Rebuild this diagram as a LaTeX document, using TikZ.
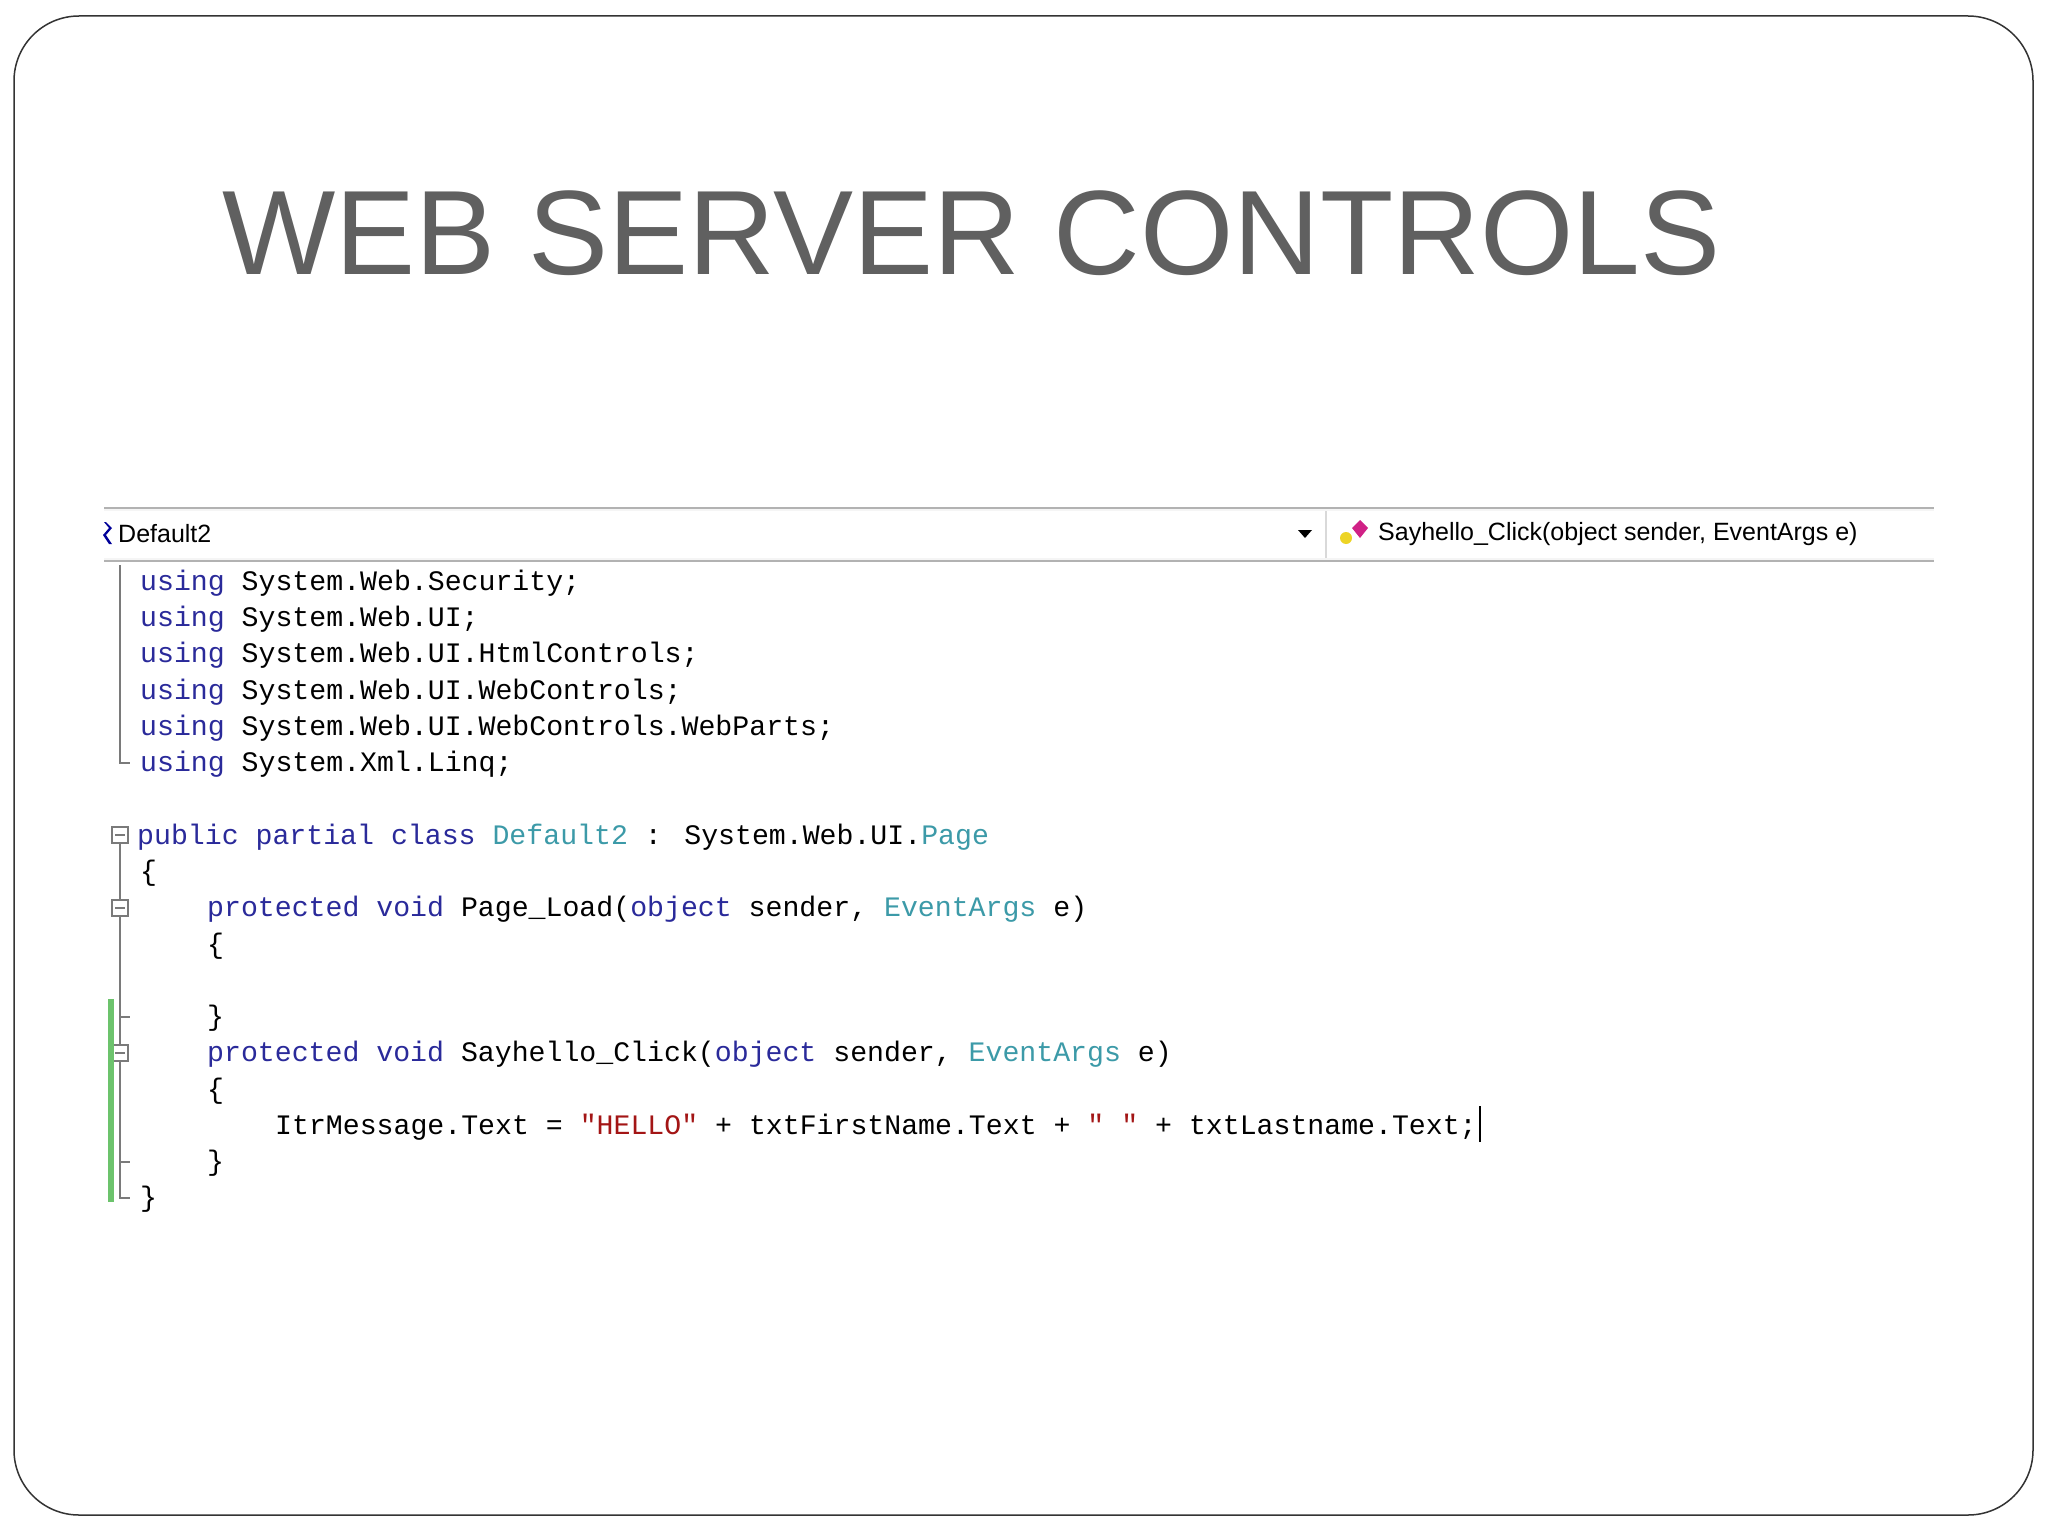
\documentclass[tikz,border=0pt]{standalone}
\usepackage{fontspec}
\setmainfont{Liberation Sans}
\newfontfamily\codefont{Liberation Mono}
\definecolor{kw}{HTML}{2A2A9A}
\definecolor{ty}{HTML}{3C9AA8}
\definecolor{st}{HTML}{A31515}
\definecolor{titlegray}{HTML}{606060}
\definecolor{gut}{HTML}{7A7A7A}
\definecolor{grn}{HTML}{6CC36C}
\begin{document}
\begin{tikzpicture}[x=1pt,y=-1pt,
  code/.style={anchor=base west,inner sep=0pt,font=\codefont\fontsize{28.2}{30}\selectfont,text=black},
  hdr/.style={anchor=west,inner sep=0pt,font=\fontsize{25}{28}\selectfont,text=black}]
\useasboundingbox (0,0) rectangle (2048,1536);
\fill[white] (0,0) rectangle (2048,1536);
\draw[line width=1.5pt,black!80,rounded corners=65pt] (14,16) rectangle (2033,1515);
\node[anchor=base west,inner sep=0pt,text=titlegray,font=\fontsize{120}{130}\selectfont] (title) at (222,274) {WEB SERVER CONTROLS};
% header bar
\fill[black!4] (104,507) rectangle (1934,562);
\fill[white] (104,511) rectangle (1934,558);
\draw[black!30,line width=2pt] (104,508) -- (1934,508);
\draw[black!30,line width=2pt] (104,561) -- (1934,561);
\draw[black!15,line width=2pt] (1326,511) -- (1326,558);
\fill[blue!60!black] (106,522) -- (112,528) -- (106,535) -- (112,544) -- (109,544) -- (103,535) -- (109,528) -- (104,522) -- cycle;
\node[hdr] (d2) at (118,534) {Default2};
\fill[black] (1298,530) -- (1312,530) -- (1305,538) -- cycle;
\fill[yellow!70!brown] (1346,538) circle (6pt);
\fill[magenta!70!violet] (1360,520) -- (1368,528) -- (1360,538) -- (1352,528) -- cycle;
\node[hdr] (sh) at (1378,534) {Sayhello\_Click(object sender, EventArgs e)};
% gutter
\draw[gut,line width=1.2pt] (120,565) -- (120,763) -- (130,763);
\draw[gut,line width=1.2pt] (120,843) -- (120,1198) -- (130,1198);
\foreach \yy in {908,1053}{\draw[gut,fill=white,line width=1.2pt] (112,{\yy-8}) rectangle (128,{\yy+8}); \draw[gut,line width=1.2pt] (115,\yy) -- (125,\yy);}
\draw[gut,fill=white,line width=1.2pt] (112,827) rectangle (128,843); \draw[gut,line width=1.2pt] (115,835) -- (125,835);
\foreach \yy in {1017,1162}{\draw[gut,line width=1.2pt] (120,\yy) -- (130,\yy);}
\fill[grn] (108,999) rectangle (114,1202);
% code
\node[code] (l0) at (140,590) {\textcolor{kw}{using} System.Web.Security;};
\node[code] (l1) at (140,626) {\textcolor{kw}{using} System.Web.UI;};
\node[code] (l2) at (140,662) {\textcolor{kw}{using} System.Web.UI.HtmlControls;};
\node[code] (l3) at (140,699) {\textcolor{kw}{using} System.Web.UI.WebControls;};
\node[code] (l4) at (140,735) {\textcolor{kw}{using} System.Web.UI.WebControls.WebParts;};
\node[code] (l5) at (140,771) {\textcolor{kw}{using} System.Xml.Linq;};
\node[code] (l7) at (137,844) {\textcolor{kw}{public partial class} \textcolor{ty}{Default2} : System.Web.UI.\textcolor{ty}{Page}};
\node[code] (l8) at (140,880) {\{};
\node[code] (l9) at (207,916) {\textcolor{kw}{protected void} Page\_Load(\textcolor{kw}{object} sender, \textcolor{ty}{EventArgs} e)};
\node[code] (l10) at (207,953) {\{};
\node[code] (l12) at (207,1025) {\}};
\node[code] (l13) at (207,1061) {\textcolor{kw}{protected void} Sayhello\_Click(\textcolor{kw}{object} sender, \textcolor{ty}{EventArgs} e)};
\node[code] (l14) at (207,1098) {\{};
\node[code] (l15) at (275,1134) {ItrMessage.Text = \textcolor{st}{"HELLO"} + txtFirstName.Text + \textcolor{st}{" "} + txtLastname.Text;};
\node[code] (l16) at (207,1170) {\}};
\node[code] (l17) at (140,1206) {\}};
\draw[black,line width=1.5pt] (l15.base east) ++(3,8) -- ++(0,-36);
\end{tikzpicture}
\end{document}
